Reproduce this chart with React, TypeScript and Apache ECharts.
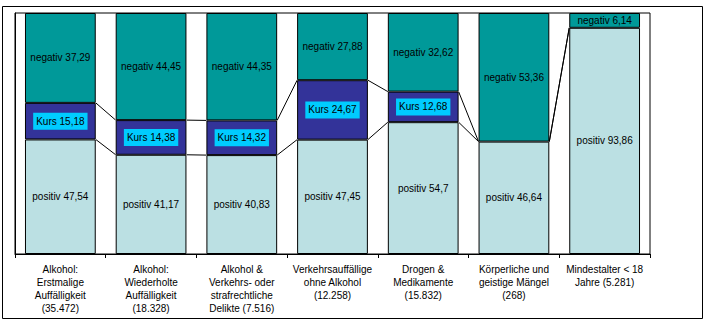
import React, { useEffect, useRef } from "react";
import * as echarts from "echarts";

const categories = [
  "Alkohol:\nErstmalige\nAuffälligkeit\n(35.472)",
  "Alkohol:\nWiederholte\nAuffälligkeit\n(18.328)",
  "Alkohol &\nVerkehrs- oder\nstrafrechtliche\nDelikte (7.516)",
  "Verkehrsauffällige\nohne Alkohol\n(12.258)",
  "Drogen &\nMedikamente\n(15.832)",
  "Körperliche und\ngeistige Mängel\n(268)",
  "Mindestalter < 18\nJahre (5.281)",
];
const positiv = [47.54, 41.17, 40.83, 47.45, 54.7, 46.64, 93.86];
const kurs = [15.18, 14.38, 14.32, 24.67, 12.68, 0, 0];
const negativ = [37.29, 44.45, 44.35, 27.88, 32.62, 53.36, 6.14];

const FONT = "'Liberation Sans', Arial, sans-serif";
const GAP = 0.22;

const fmt = (v: number) => String(v).replace(".", ",");

export default function App() {
  const ref = useRef<HTMLDivElement>(null);
  useEffect(() => {
    document.body.style.margin = "0";
    const chart = echarts.init(ref.current!, undefined, { renderer: "svg" });
    const totals = positiv.map((p, i) => p + kurs[i] + negativ[i]);
    const norm = (arr: number[]) => arr.map((v, i) => (v / totals[i]) * 100);
    const pN = norm(positiv);
    const kN = norm(kurs);
    const nN = norm(negativ);
    const cum1 = pN;
    const cum2 = pN.map((v, i) => v + kN[i]);

    const mkData = (vals: number[], raw: number[], name: string) =>
      vals.map((v, i) => ({
        value: v,
        label: { show: raw[i] > 0, formatter: `${name} ${fmt(raw[i])}` },
        itemStyle: raw[i] > 0 ? {} : { borderWidth: 0 },
      }));

    const lineSeries = (cum: number[]) => ({
      type: "custom",
      silent: true,
      z: 1,
      data: cum.slice(0, -1).map((v, i) => [i, v, cum[i + 1]]),
      encode: { x: 0, y: 1 },
      renderItem: (params: any, api: any) => {
        const i = api.value(0);
        const p1 = api.coord([i, api.value(1)]);
        const p2 = api.coord([i + 1, api.value(2)]);
        const bw = api.size([1, 0])[0] * (1 - GAP);
        return {
          type: "line",
          shape: { x1: p1[0] + bw / 2, y1: p1[1], x2: p2[0] - bw / 2, y2: p2[1] },
          style: { stroke: "#000", lineWidth: 1 },
        };
      },
    });

    const barBase = {
      type: "bar",
      stack: "s",
      barCategoryGap: "22%",
      z: 2,
      label: {
        show: true,
        position: "inside",
        color: "#000",
        fontSize: 10,
        fontFamily: FONT,
      },
    };

    chart.setOption({
      animation: false,
      backgroundColor: "#fff",
      textStyle: { fontFamily: FONT },
      grid: {
        left: 15,
        right: 57,
        top: 13,
        bottom: 71,
        show: true,
        borderColor: "#000",
        borderWidth: 1,
      },
      xAxis: {
        type: "category",
        data: categories,
        axisLine: { lineStyle: { color: "#000", width: 1 } },
        axisTick: { show: true, length: 4, lineStyle: { color: "#000" } },
        axisLabel: {
          interval: 0,
          color: "#000",
          fontSize: 10,
          lineHeight: 13,
          margin: 9,
          fontFamily: FONT,
        },
      },
      yAxis: {
        type: "value",
        min: 0,
        max: 100,
        axisLine: { show: true, lineStyle: { color: "#000" } },
        axisTick: { show: false },
        axisLabel: { show: false },
        splitLine: { show: false },
      },
      series: [
        {
          ...barBase,
          name: "positiv",
          data: mkData(pN, positiv, "positiv"),
          itemStyle: { color: "#BBE0E3", borderColor: "#000", borderWidth: 1 },
        },
        {
          ...barBase,
          name: "Kurs",
          data: mkData(kN, kurs, "Kurs"),
          itemStyle: { color: "#333399", borderColor: "#000", borderWidth: 1 },
          label: {
            ...barBase.label,
            backgroundColor: "#00CCFF",
            padding: [4, 3, 3, 3],
          },
        },
        {
          ...barBase,
          name: "negativ",
          data: mkData(nN, negativ, "negativ"),
          itemStyle: { color: "#009999", borderColor: "#000", borderWidth: 1 },
        },
        lineSeries(cum1),
        lineSeries(cum2),
      ],
      graphic: [
        {
          type: "rect",
          shape: { x: 2.5, y: 6.5, width: 700, height: 312 },
          style: { fill: "none", stroke: "#000", lineWidth: 1 },
          silent: true,
        },
      ],
    });
    return () => chart.dispose();
  }, []);
  return <div ref={ref} style={{ width: 707, height: 325 }} />;
}
